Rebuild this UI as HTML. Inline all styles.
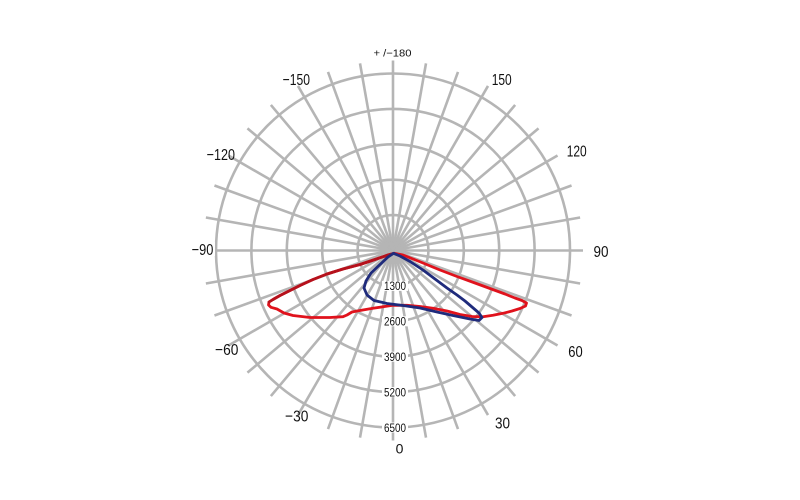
<!DOCTYPE html>
<html><head><meta charset="utf-8"><style>
html,body{margin:0;padding:0;background:#fff;}
svg{display:block;}
text{font-family:"Liberation Sans",sans-serif;fill:#111;}
</style></head><body>
<svg width="800" height="500" viewBox="0 0 800 500" xmlns="http://www.w3.org/2000/svg">
<rect width="800" height="500" fill="#fff"/>
<g stroke="#b5b5b5" stroke-width="2.6" fill="none">
<circle cx="393" cy="250.5" r="35.4"/>
<circle cx="393" cy="250.5" r="70.8"/>
<circle cx="393" cy="250.5" r="106.2"/>
<circle cx="393" cy="250.5" r="141.6"/>
<circle cx="393" cy="250.5" r="177"/>
<g transform="translate(393 250.5)">
<line x1="0" y1="-190" x2="0" y2="190"/>
<line x1="0" y1="-190" x2="0" y2="190" transform="rotate(10)"/>
<line x1="0" y1="-190" x2="0" y2="190" transform="rotate(20)"/>
<line x1="0" y1="-190" x2="0" y2="190" transform="rotate(30)"/>
<line x1="0" y1="-190" x2="0" y2="190" transform="rotate(40)"/>
<line x1="0" y1="-190" x2="0" y2="190" transform="rotate(50)"/>
<line x1="0" y1="-190" x2="0" y2="190" transform="rotate(60)"/>
<line x1="0" y1="-190" x2="0" y2="190" transform="rotate(70)"/>
<line x1="0" y1="-190" x2="0" y2="190" transform="rotate(80)"/>
<line x1="0" y1="-190" x2="0" y2="190" transform="rotate(90)"/>
<line x1="0" y1="-190" x2="0" y2="190" transform="rotate(100)"/>
<line x1="0" y1="-190" x2="0" y2="190" transform="rotate(110)"/>
<line x1="0" y1="-190" x2="0" y2="190" transform="rotate(120)"/>
<line x1="0" y1="-190" x2="0" y2="190" transform="rotate(130)"/>
<line x1="0" y1="-190" x2="0" y2="190" transform="rotate(140)"/>
<line x1="0" y1="-190" x2="0" y2="190" transform="rotate(150)"/>
<line x1="0" y1="-190" x2="0" y2="190" transform="rotate(160)"/>
<line x1="0" y1="-190" x2="0" y2="190" transform="rotate(170)"/>
</g>
</g>
<!-- value label backgrounds -->
<g fill="#fff">
<rect x="382" y="280.9" width="26" height="10"/>
<rect x="382" y="316.3" width="26" height="10"/>
<rect x="382" y="351.7" width="26" height="10"/>
<rect x="382" y="387.1" width="26" height="10"/>
<rect x="382" y="422.5" width="26" height="10"/>
<rect x="190" y="242" width="25" height="14"/>
</g>
<g font-size="11.5" text-anchor="middle">
<text x="395" y="290.2" textLength="22" lengthAdjust="spacingAndGlyphs">1300</text>
<text x="395" y="325.6" textLength="22" lengthAdjust="spacingAndGlyphs">2600</text>
<text x="395" y="361" textLength="22" lengthAdjust="spacingAndGlyphs">3900</text>
<text x="395" y="396.4" textLength="22" lengthAdjust="spacingAndGlyphs">5200</text>
<text x="395" y="431.8" textLength="22" lengthAdjust="spacingAndGlyphs">6500</text>
</g>
<!-- curves -->
<g fill="none" stroke-width="2.8" stroke-linejoin="round" stroke-linecap="round">
<polygon stroke="#e0121c" points="394,253.3 403,255 423,263 440,270 457,276.5 475,283 490,288.5 505,294 515,298 522,300.5 526.5,303 525.5,306 520,308.5 512,311 503,313.3 493,315.3 483,316.8 472,316.5 460,314.5 447,311 433,308.3 420,306.5 407,305.3 393,305.3 383,306.8 373,308.3 360,310.5 352,312 347,315 343,316.7 330,317.5 310,317.5 293,315.5 284,313 277,309 271,307.3 268.5,305 269,302 273,299.5 280,295.5 290,290.5 300,285.5 313,279.5 327,274 343,269 360,264.5 375,259.5 388,255"/>
<polyline stroke="#b5111c" points="269,302 273,299.5 280,295.5 290,290.5 300,285.5 313,279.5 327,274 343,269 360,264.5 375,259.5 388,255 394,253.3"/>
<polygon stroke="#1f2b7c" points="393.5,253.3 400,256 410,261.5 423,270 435,279 447,288 457,295 465,301 472,307 479,313 482,317.5 479,320.5 470,319 453,315.5 437,312 420,308 403,305.5 387,303.5 374,300.5 367,295 364,288 366,281 371,273 380,264.5 388,257"/>
</g>
<!-- angle labels -->
<g font-size="16" text-anchor="middle">
<text x="296.3" y="85" textLength="27.3" lengthAdjust="spacingAndGlyphs">−150</text>
<text x="501.7" y="85" textLength="20" lengthAdjust="spacingAndGlyphs">150</text>
<text x="220.8" y="160" textLength="28.3" lengthAdjust="spacingAndGlyphs">−120</text>
<text x="576.7" y="156.6" textLength="20" lengthAdjust="spacingAndGlyphs">120</text>
<text x="202.5" y="254.8" textLength="21.7" lengthAdjust="spacingAndGlyphs">−90</text>
<text x="601" y="256.8" textLength="15" lengthAdjust="spacingAndGlyphs">90</text>
<text x="226.7" y="355" textLength="23.3" lengthAdjust="spacingAndGlyphs">−60</text>
<text x="575.5" y="356.8" textLength="14.4" lengthAdjust="spacingAndGlyphs">60</text>
<text x="296.7" y="421.6" textLength="23.3" lengthAdjust="spacingAndGlyphs">−30</text>
<text x="502.5" y="428.3" textLength="15" lengthAdjust="spacingAndGlyphs">30</text>
<text x="399.5" y="453.5" font-size="14">0</text>
</g>
<text x="392.5" y="56.5" font-size="10.5" text-anchor="middle" textLength="38" lengthAdjust="spacingAndGlyphs">+ /−180</text>
</svg>
</body></html>
